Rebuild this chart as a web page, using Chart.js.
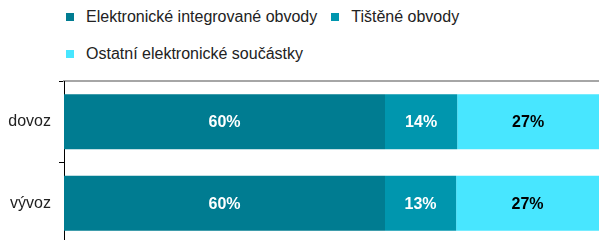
<!DOCTYPE html>
<html>
<head>
<meta charset="utf-8">
<script src="https://cdn.jsdelivr.net/npm/chart.js@4/dist/chart.umd.min.js"></script>
<style>
  html, body { margin:0; padding:0; background:#fff; overflow:hidden; width:599px; height:240px; }
  #wrap { position:relative; width:599px; height:240px; overflow:hidden; }
  #chart { position:absolute; left:0; top:0; }
  #legend { position:absolute; left:66px; top:7px; width:420px; display:flex; flex-wrap:wrap; row-gap:17px;
            font-family:'Liberation Sans', Arial, sans-serif; font-size:16px; color:#222; }
  .item { display:flex; align-items:center; height:20px; margin-right:14px; white-space:nowrap; }
  .box { width:8px; height:8px; margin-right:12px; flex:none; }
</style>
</head>
<body>
<div id="wrap">
  <div id="legend"></div>
  <canvas id="chart" width="599" height="244"></canvas>
</div>
<script>
// ---- data ----
const categories = ['dovoz', 'vývoz'];
const seriesNames = ['Elektronické integrované obvody', 'Tištěné obvody', 'Ostatní elektronické součástky'];
const integrovane = [60.0, 60.0];
const tistene     = [13.5, 13.3];
const ostatni     = [26.5, 26.7];

const colors     = ['#007C91', '#0096AE', '#48E6FF'];
const textColors = ['#ffffff', '#ffffff', '#000000'];
const FONT = "'Liberation Sans', Arial, sans-serif";

// html legend
const legendEl = document.getElementById('legend');
seriesNames.forEach((name, i) => {
  const it = document.createElement('div');
  it.className = 'item';
  it.innerHTML = `<span class="box" style="background:${colors[i]}"></span><span>${name}</span>`;
  legendEl.appendChild(it);
});

// value labels inside bars
const barLabels = {
  id: 'barLabels',
  afterDatasetsDraw(chart) {
    const ctx = chart.ctx;
    ctx.save();
    ctx.font = `bold 16px ${FONT}`;
    ctx.textAlign = 'center';
    ctx.textBaseline = 'middle';
    chart.data.datasets.forEach((ds, di) => {
      const meta = chart.getDatasetMeta(di);
      ctx.fillStyle = textColors[di];
      meta.data.forEach((bar, i) => {
        const p = bar.getCenterPoint();
        ctx.fillText(Math.round(ds.data[i]) + '%', p.x, p.y + 1);
      });
    });
    ctx.restore();
  }
};

const datasets = [integrovane, tistene, ostatni].map((d, i) => ({
  label: seriesNames[i], data: d, backgroundColor: colors[i], borderWidth: 0,
  barPercentage: 0.9, categoryPercentage: 0.75
}));

new Chart(document.getElementById('chart'), {
  type: 'bar',
  data: { labels: categories, datasets },
  options: {
    indexAxis: 'y',
    responsive: false, animation: false, devicePixelRatio: 1,
    layout: { padding: { top: 81, left: 0, right: 0, bottom: 0 } },
    plugins: { legend: { display: false }, tooltip: { enabled: false } },
    scales: {
      x: {
        stacked: true, position: 'top', min: 0, max: 100,
        ticks: { display: false },
        grid: { display: false, drawTicks: false },
        border: { display: true, color: '#a6a6a6', width: 2 },
        afterFit: s => { s.height = 0; s.paddingLeft = 0; s.paddingRight = 0; }
      },
      y: {
        stacked: true,
        ticks: { color: '#222', font: { family: FONT, size: 16 }, padding: 8 },
        grid: { drawOnChartArea: false, drawTicks: true, tickLength: 5, color: '#000', offset: true },
        border: { display: true, color: '#000', width: 1 },
        afterFit: s => { s.width = 64; s.paddingTop = 0; s.paddingBottom = 0; }
      }
    }
  },
  plugins: [barLabels]
});
</script>
</body>
</html>
